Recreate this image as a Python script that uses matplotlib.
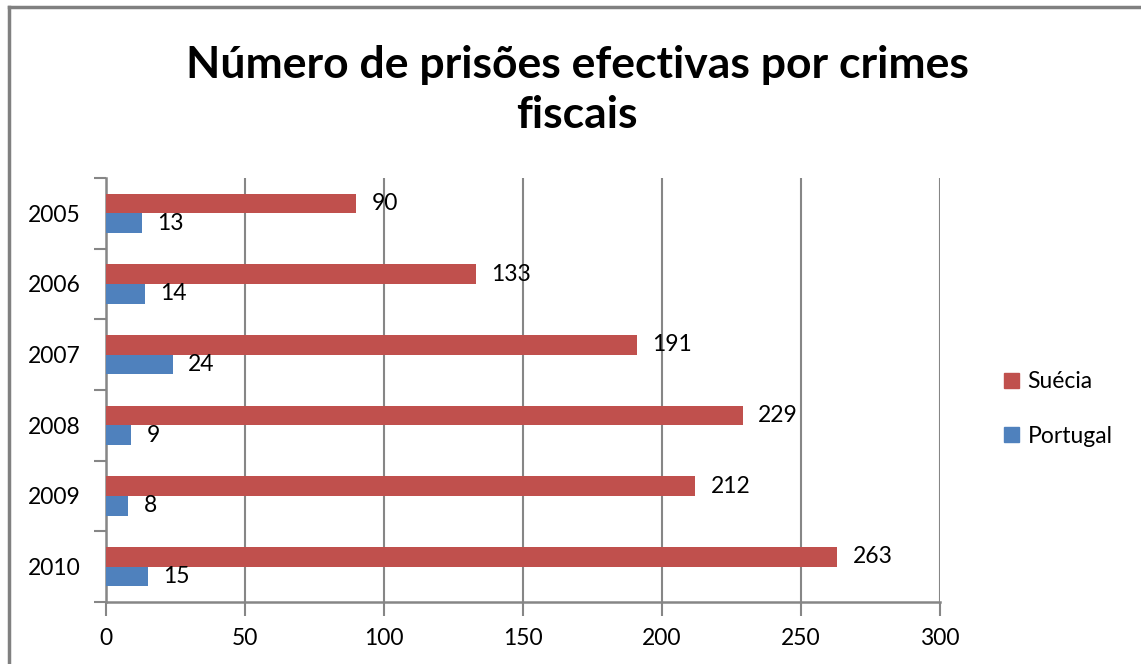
import matplotlib
matplotlib.use("Agg")
import matplotlib.pyplot as plt
from matplotlib.lines import Line2D
from matplotlib.patches import Patch
import numpy as np

years = ["2005", "2006", "2007", "2008", "2009", "2010"]
suecia = [90, 133, 191, 229, 212, 263]
portugal = [13, 14, 24, 9, 8, 15]
xticks = [0, 50, 100, 150, 200, 250, 300]
title = "Número de prisões efectivas por crimes\nfiscais"

RED = "#C0504D"
BLUE = "#4F81BD"
GREY = "#868686"
FONT = "Lato"
FS = 16.5

fig = plt.figure(figsize=(11.41, 6.64), dpi=100)
ax = fig.add_axes([106/1141, 1-602/664, (940-106)/1141, (602-178)/664])

y = np.arange(len(years))
h = 0.28
ax.barh(y - h/2, suecia, height=h, color=RED, zorder=3, label="Suécia")
ax.barh(y + h/2, portugal, height=h, color=BLUE, zorder=3, label="Portugal")

for yi, v in zip(y, suecia):
    ax.annotate(str(v), (v, yi - h/2), xytext=(11, 0), textcoords="offset points",
                va="center", ha="left", fontsize=FS, family=FONT, color="black")
for yi, v in zip(y, portugal):
    ax.annotate(str(v), (v, yi + h/2), xytext=(11, 0), textcoords="offset points",
                va="center", ha="left", fontsize=FS, family=FONT, color="black")

ax.set_xlim(0, 300)
ax.set_ylim(len(years) - 0.5, -0.5)
ax.set_xticks(xticks)
ax.set_xticklabels([str(t) for t in xticks], fontsize=FS, family=FONT)
ax.set_yticks(np.arange(len(years) + 1) - 0.5)
ax.set_yticklabels([])
ax.set_yticks(y, minor=True)
ax.set_yticklabels(years, minor=True, fontsize=FS, family=FONT)
ax.tick_params(axis="y", which="major", length=9, width=1.5, color=GREY, direction="out")
ax.tick_params(axis="y", which="minor", length=0, pad=18.5)
ax.tick_params(axis="x", length=10, width=1.5, color=GREY, direction="out", pad=9)

ax.grid(axis="x", color=GREY, linewidth=1.5, zorder=0)
ax.set_axisbelow(True)
for s in ["top", "right"]:
    ax.spines[s].set_visible(False)
for s in ["left", "bottom"]:
    ax.spines[s].set_color(GREY)
    ax.spines[s].set_linewidth(1.8)

fig.text(577/1141, 1-90/664, title, ha="center", va="center", fontsize=32,
         fontweight="bold", family=FONT, linespacing=1.3)

handles = [Patch(color=RED, label="Suécia"), Patch(color=BLUE, label="Portugal")]
leg = fig.legend(handles=handles, loc="center left", bbox_to_anchor=(983/1141, 1-409/664),
                 frameon=False, prop={"family": FONT, "size": FS},
                 handlelength=0.65, handleheight=0.65, handletextpad=0.4, labelspacing=1.45)

# outer border (left and top visible)
fig.add_artist(Line2D([9/1141, 9/1141], [0, 1-7/664], transform=fig.transFigure, color="#808080", lw=2.5))
fig.add_artist(Line2D([9/1141, 1], [1-7/664, 1-7/664], transform=fig.transFigure, color="#808080", lw=2.5))

fig.savefig("out.png", dpi=100, facecolor="white")
